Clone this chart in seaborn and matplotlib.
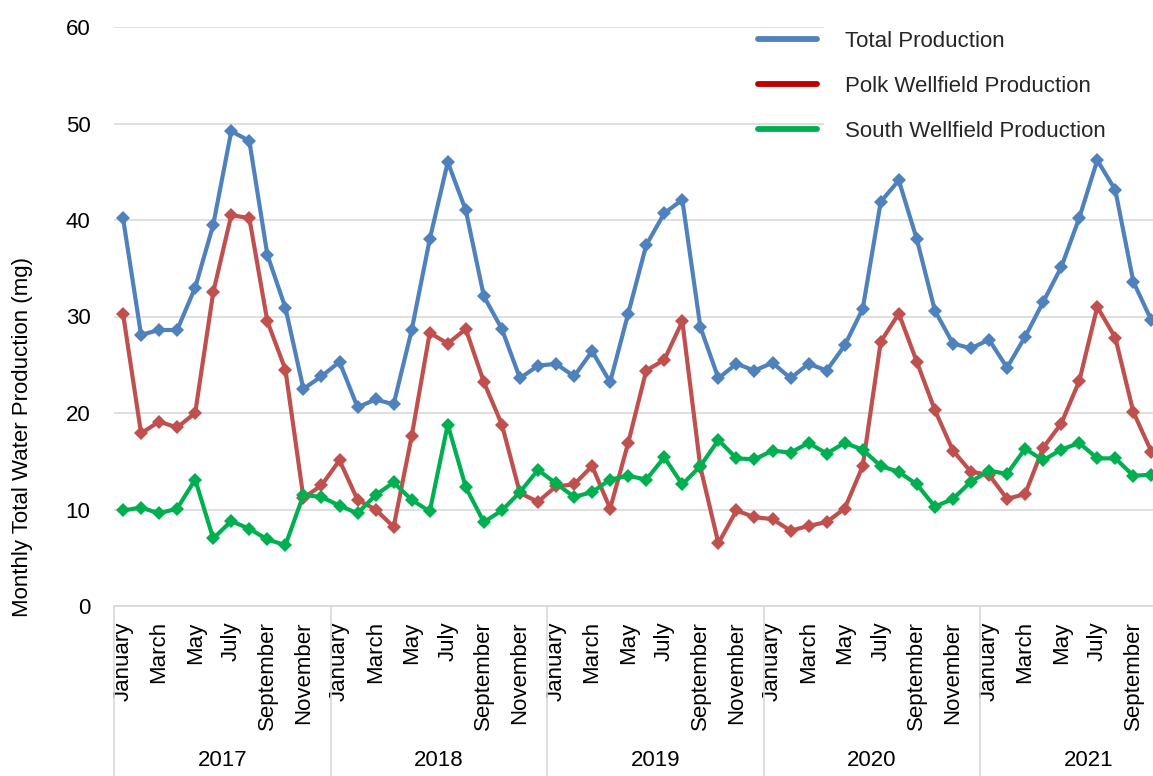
import numpy as np
import pandas as pd
import matplotlib
matplotlib.use("Agg")
import matplotlib.pyplot as plt
import matplotlib.transforms as mtransforms
from matplotlib.lines import Line2D
from matplotlib.patches import Rectangle
import seaborn as sns

# Monthly production (million gallons), January 2017 onward
years = ["2017", "2018", "2019", "2020", "2021"]
months = ["January", "February", "March", "April", "May", "June", "July",
          "August", "September", "October", "November", "December"]

total_production = [
    40.2, 28.1, 28.6, 28.6, 33.0, 39.5, 49.2, 48.2, 36.4, 30.9, 22.5, 23.8,
    25.3, 20.6, 21.4, 20.9, 28.6, 38.0, 46.0, 41.0, 32.1, 28.7, 23.6, 24.9,
    25.1, 23.8, 26.4, 23.2, 30.3, 37.4, 40.7, 42.1, 28.9, 23.6, 25.1, 24.4,
    25.2, 23.6, 25.1, 24.4, 27.0, 30.8, 41.9, 44.1, 38.0, 30.6, 27.2, 26.7,
    27.6, 24.7, 27.9, 31.5, 35.1, 40.2, 46.2, 43.1, 33.6, 29.6,
]
polk_production = [
    30.3, 17.9, 19.1, 18.5, 20.0, 32.5, 40.5, 40.2, 29.5, 24.5, 11.2, 12.5,
    15.1, 11.0, 10.0, 8.2, 17.6, 28.3, 27.2, 28.7, 23.2, 18.8, 11.7, 10.8,
    12.4, 12.6, 14.5, 10.1, 16.9, 24.4, 25.5, 29.5, 14.4, 6.5, 9.9, 9.2,
    9.0, 7.8, 8.3, 8.7, 10.1, 14.5, 27.4, 30.3, 25.3, 20.3, 16.1, 13.9,
    13.6, 11.1, 11.6, 16.4, 18.9, 23.3, 31.0, 27.8, 20.1, 16.0,
]
south_production = [
    9.9, 10.2, 9.6, 10.1, 13.1, 7.0, 8.8, 8.0, 6.9, 6.3, 11.5, 11.3,
    10.4, 9.6, 11.5, 12.8, 11.0, 9.8, 18.8, 12.3, 8.7, 9.9, 11.8, 14.1,
    12.7, 11.3, 11.8, 13.1, 13.5, 13.1, 15.4, 12.6, 14.5, 17.2, 15.3, 15.2,
    16.1, 15.9, 16.9, 15.8, 16.9, 16.2, 14.5, 13.9, 12.6, 10.3, 11.1, 12.9,
    14.0, 13.7, 16.3, 15.1, 16.2, 16.9, 15.3, 15.3, 13.5, 13.6,
]

series_names = ["Total Production", "Polk Wellfield Production",
                "South Wellfield Production"]
line_colors = ["#4F81BD", "#C0504D", "#00B050"]
legend_colors = ["#4F81BD", "#C00000", "#00B050"]

n = len(total_production)
frames = []
for name, vals in zip(series_names,
                      [total_production, polk_production, south_production]):
    frames.append(pd.DataFrame({"idx": np.arange(n), "value": vals,
                                "series": name}))
df = pd.concat(frames, ignore_index=True)

sns.set_theme(style="white")
plt.rcParams["font.family"] = ["Liberation Sans", "DejaVu Sans"]
FS = 16

W, H = 1153, 776
fig = plt.figure(figsize=(W / 100, H / 100), dpi=100)
ax_left, ax_right, ax_top, ax_bottom = 114, 1153, 27, 606
ax = fig.add_axes([ax_left / W, 1 - ax_bottom / H,
                   (ax_right - ax_left) / W, (ax_bottom - ax_top) / H])

month_px = (980 - 114) / 48.0
x0 = -0.5
x1 = x0 + (ax_right - ax_left) / month_px

ax.set_axisbelow(True)
ax.yaxis.grid(True, color="#D9D9D9", linewidth=1.2, zorder=0.5)
ax.xaxis.grid(False)

# White block behind the legend hides the gridlines there
ax.add_patch(Rectangle((0.683, 0.815), 0.4, 0.3, transform=ax.transAxes,
                       facecolor="white", edgecolor="none", zorder=1,
                       clip_on=False))

sns.lineplot(data=df, x="idx", y="value", hue="series",
             hue_order=series_names, palette=line_colors,
             marker="D", markersize=6.8, markeredgewidth=0,
             linewidth=3.0, legend=False, ax=ax, zorder=2)

ax.set_xlim(x0, x1)
ax.set_ylim(0, 60)
ax.set_yticks(np.arange(0, 61, 10))
ax.tick_params(axis="y", length=0, pad=17, labelsize=FS, labelcolor="black")

tick_pos = list(range(0, n, 2))
tick_lab = [months[i % 12] for i in tick_pos]
ax.set_xticks(tick_pos)
ax.set_xticklabels(tick_lab, rotation=90, fontsize=FS, color="black")
ax.tick_params(axis="x", length=0, pad=11)
ax.set_xlabel("")
ax.set_ylabel("Monthly Total Water Production (mg)", fontsize=FS,
              color="black")
ax.yaxis.set_label_coords(-0.078, 0.292)

for side in ["left", "right", "top"]:
    ax.spines[side].set_visible(False)
ax.spines["bottom"].set_color("#D9D9D9")
ax.spines["bottom"].set_linewidth(1.2)

# Year group separators and labels under the month labels
trans = mtransforms.blended_transform_factory(ax.transData, ax.transAxes)
ax_h = ax_bottom - ax_top
sep_bottom = -(H - ax_bottom) / ax_h
year_y = -(760 - ax_bottom) / ax_h
for k, yr in enumerate(years):
    start = x0 + 12 * k
    ax.add_line(Line2D([start, start], [0, sep_bottom], transform=trans,
                       color="#D9D9D9", linewidth=1.2, clip_on=False))
    ax.text(start + 6, year_y, yr, transform=trans, ha="center",
            va="center", fontsize=FS, color="black", clip_on=False)

handles = [Line2D([0], [0], color=c, linewidth=4.2) for c in legend_colors]
fig.legend(handles, series_names, loc="upper left",
           bbox_to_anchor=(758 / W, 1 - 31 / H), frameon=False,
           fontsize=FS, handlelength=2.65, handletextpad=1.25,
           labelspacing=1.07, borderpad=0, borderaxespad=0)

fig.savefig("out.png", dpi=100)
